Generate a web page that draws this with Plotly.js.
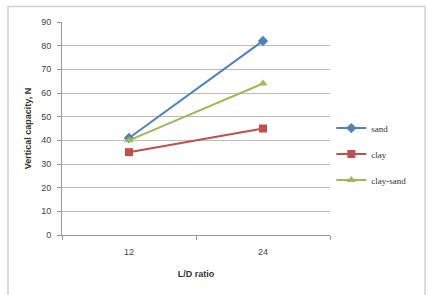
<!DOCTYPE html>
<html>
<head>
<meta charset="utf-8">
<script src="https://cdn.plot.ly/plotly-3.0.1.min.js"></script>
<style>html,body{margin:0;padding:0;background:#fff;}#chart{width:428px;height:295px;}</style>
</head>
<body>
<div id="chart"></div>
<script>
const categories = ["12", "24"];
const sand = [41, 82];
const clay = [35, 45];
const claySand = [40, 64];
const yTicks = [0, 10, 20, 30, 40, 50, 60, 70, 80, 90];

const mk = (name, y, color, symbol, size) => ({
  x: categories, y: y, name: name, legendgroup: name, type: "scatter", mode: "lines+markers",
  line: {color: color, width: 2},
  marker: {color: color, symbol: symbol, size: size}
});

const data = [
  mk("sand", sand, "#4F81BD", "diamond", 8),
  mk("clay", clay, "#C0504D", "square", 8),
  mk("clay-sand", claySand, "#9BBB59", "triangle-up", 8)
];

const layout = {
  width: 428, height: 295,
  margin: {l: 62, r: 98, t: 22, b: 59.5},
  paper_bgcolor: "#fff", plot_bgcolor: "#fff",
  showlegend: true,
  font: {family: "Liberation Sans, Arial, sans-serif", size: 9, color: "#333"},
  xaxis: {
    type: "category", range: [-0.5, 1.5], tickson: "boundaries", ticks: "outside", ticklen: 4, tickcolor: "#999",
    showline: true, linecolor: "#999", linewidth: 1, showgrid: false, zeroline: false,
    tickfont: {size: 9, color: "#444"}, ticklabelstandoff: 8,
    title: {text: "L/D ratio", font: {size: 9, color: "#333", family: "Liberation Sans, Arial, sans-serif", weight: "bold"}, standoff: 14}
  },
  yaxis: {
    range: [0, 90], tickvals: yTicks, ticks: "outside", ticklen: 4, tickcolor: "#999",
    showline: true, linecolor: "#999", linewidth: 1,
    showgrid: true, gridcolor: "#bdbdbd", gridwidth: 1, zeroline: false,
    tickfont: {size: 9, color: "#444"}, ticklabelstandoff: 4,
    title: {text: "Vertical capacity, N", font: {size: 9, color: "#333", family: "Liberation Sans, Arial, sans-serif", weight: "bold"}, standoff: 8}
  },
  legend: {
    x: 1.005, y: 0.57, xanchor: "left", yanchor: "top",
    font: {family: "Liberation Serif, Times New Roman, serif", size: 9, color: "#333"},
    tracegroupgap: 7, itemwidth: 30, bgcolor: "rgba(0,0,0,0)"
  },
  shapes: [{
    type: "rect", xref: "paper", yref: "paper",
    x0: -0.2015, x1: 1.3545, y0: -0.35, y1: 1.0728,
    line: {color: "#d0d0d0", width: 1.5}, fillcolor: "rgba(0,0,0,0)", layer: "below"
  }]
};

Plotly.newPlot("chart", data, layout, {displayModeBar: false, staticPlot: true});
</script>
</body>
</html>
